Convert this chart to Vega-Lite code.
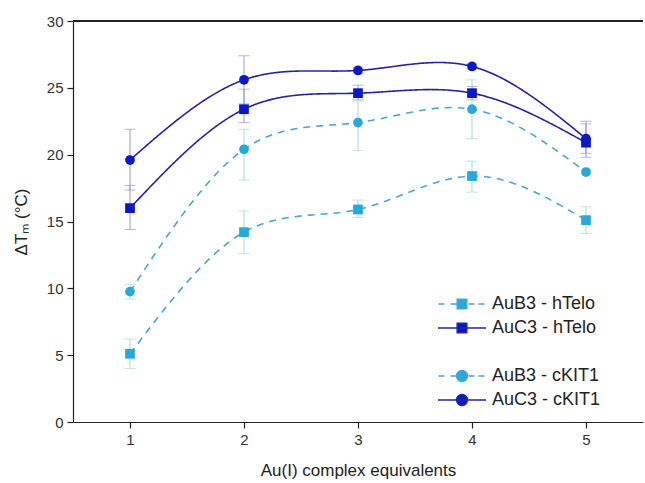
{
  "$schema": "https://vega.github.io/schema/vega-lite/v6.json",
  "width": 570,
  "height": 401,
  "autosize": "none",
  "padding": {"left": 73, "top": 21, "right": 2, "bottom": 61},
  "background": "white",
  "config": {
    "view": {"stroke": null},
    "font": "Liberation Sans",
    "axis": {
      "grid": false,
      "domainColor": "#222222",
      "domainWidth": 1.2,
      "tickColor": "#222222",
      "tickWidth": 1.2,
      "labelColor": "#333333",
      "labelFont": "Liberation Sans",
      "labelFontSize": 15,
      "labelPadding": 4,
      "titleFont": "Liberation Sans",
      "titleFontSize": 17,
      "titleFontWeight": "normal",
      "titleColor": "#222222"
    },
    "legend": {
      "labelFont": "Liberation Sans",
      "labelFontSize": 18,
      "labelColor": "#222222"
    }
  },
  "data": {
    "values": [
      {"series": "AuB3 - hTelo", "x": 1, "y": 5.1, "lo": 4.0, "hi": 6.2},
      {"series": "AuB3 - hTelo", "x": 2, "y": 14.2, "lo": 12.6, "hi": 15.8},
      {"series": "AuB3 - hTelo", "x": 3, "y": 15.9, "lo": 15.3, "hi": 16.6},
      {"series": "AuB3 - hTelo", "x": 4, "y": 18.4, "lo": 17.2, "hi": 19.5},
      {"series": "AuB3 - hTelo", "x": 5, "y": 15.1, "lo": 14.1, "hi": 16.1},
      {"series": "AuC3 - hTelo", "x": 1, "y": 16.0, "lo": 14.4, "hi": 17.7},
      {"series": "AuC3 - hTelo", "x": 2, "y": 23.4, "lo": 22.4, "hi": 24.9},
      {"series": "AuC3 - hTelo", "x": 3, "y": 24.6, "lo": 24.1, "hi": 25.2},
      {"series": "AuC3 - hTelo", "x": 4, "y": 24.6, "lo": 24.1, "hi": 25.1},
      {"series": "AuC3 - hTelo", "x": 5, "y": 20.9, "lo": 19.8, "hi": 22.3},
      {"series": "AuB3 - cKIT1", "x": 1, "y": 9.75, "lo": 9.2, "hi": 10.3},
      {"series": "AuB3 - cKIT1", "x": 2, "y": 20.4, "lo": 18.1, "hi": 21.9},
      {"series": "AuB3 - cKIT1", "x": 3, "y": 22.4, "lo": 20.3, "hi": 24.0},
      {"series": "AuB3 - cKIT1", "x": 4, "y": 23.4, "lo": 21.2, "hi": 25.6},
      {"series": "AuB3 - cKIT1", "x": 5, "y": 18.7, "lo": 18.5, "hi": 18.9},
      {"series": "AuC3 - cKIT1", "x": 1, "y": 19.6, "lo": 17.35, "hi": 21.9},
      {"series": "AuC3 - cKIT1", "x": 2, "y": 25.6, "lo": 23.8, "hi": 27.4},
      {"series": "AuC3 - cKIT1", "x": 3, "y": 26.3, "lo": 26.1, "hi": 26.5},
      {"series": "AuC3 - cKIT1", "x": 4, "y": 26.6, "lo": 26.4, "hi": 26.8},
      {"series": "AuC3 - cKIT1", "x": 5, "y": 21.2, "lo": 20.1, "hi": 22.5}
    ]
  },
  "encoding": {
    "x": {
      "field": "x",
      "type": "quantitative",
      "scale": {"domain": [0.5, 5.5], "nice": false, "zero": false},
      "axis": {
        "title": "Au(I) complex equivalents",
        "values": [1, 1.5, 2, 2.5, 3, 3.5, 4, 4.5, 5],
        "format": "d",
        "labelExpr": "datum.value % 1 === 0 ? datum.label : ''",
        "tickSize": {"condition": {"test": "datum.value % 1 !== 0", "value": 3}, "value": 6},
        "titlePadding": 15
      }
    }
  },
  "resolve": {
    "scale": {"shape": "independent", "fill": "independent", "stroke": "independent", "color": "independent", "strokeDash": "independent"},
    "legend": {"shape": "independent", "fill": "independent", "stroke": "independent", "color": "independent", "strokeDash": "independent"}
  },
  "layer": [
    {
      "mark": {"type": "rule", "color": "#222222", "strokeWidth": 1.2},
      "encoding": {
        "x": {"value": 0},
        "x2": {"value": 570},
        "y": {
          "datum": 30,
          "type": "quantitative",
          "scale": {"domain": [0, 30], "nice": false},
          "title": "ΔTₘ (°C)",
          "axis": {
            "title": "ΔTₘ (°C)",
            "values": [0, 2.5, 5, 7.5, 10, 12.5, 15, 17.5, 20, 22.5, 25, 27.5, 30],
            "labelExpr": "datum.value % 5 === 0 ? datum.label : ''",
            "tickSize": {"condition": {"test": "datum.value % 5 !== 0", "value": 3}, "value": 6},
            "titlePadding": 16
          }
        }
      }
    },
    {
      "layer": [
        {
          "mark": {"type": "rule", "strokeWidth": 1},
          "encoding": {
            "y": {"field": "lo", "type": "quantitative", "title": "ΔTₘ (°C)"},
            "y2": {"field": "hi"}
          }
        },
        {
          "mark": {"type": "tick", "orient": "horizontal", "size": 11, "thickness": 1},
          "encoding": {
            "y": {"field": "lo", "type": "quantitative", "title": "ΔTₘ (°C)"}
          }
        },
        {
          "mark": {"type": "tick", "orient": "horizontal", "size": 11, "thickness": 1},
          "encoding": {
            "y": {"field": "hi", "type": "quantitative", "title": "ΔTₘ (°C)"}
          }
        }
      ],
      "encoding": {
        "color": {
          "field": "series",
          "type": "nominal",
          "scale": {
            "domain": ["AuB3 - hTelo", "AuC3 - hTelo", "AuB3 - cKIT1", "AuC3 - cKIT1"],
            "range": ["#a6d8ee", "#9a9ad6", "#a6d8ee", "#9a9ad6"]
          },
          "legend": null
        }
      }
    },
    {
      "mark": {"type": "line", "interpolate": "natural", "strokeWidth": 1.6},
      "encoding": {
        "y": {"field": "y", "type": "quantitative", "title": "ΔTₘ (°C)"},
        "detail": {"field": "series"},
        "stroke": {
          "field": "series",
          "type": "nominal",
          "scale": {
            "domain": ["AuB3 - hTelo", "AuC3 - hTelo", "AuB3 - cKIT1", "AuC3 - cKIT1"],
            "range": ["#4aa6cc", "#2525a0", "#4aa6cc", "#2525a0"]
          },
          "legend": null
        },
        "strokeDash": {
          "field": "series",
          "type": "nominal",
          "scale": {
            "domain": ["AuB3 - hTelo", "AuC3 - hTelo", "AuB3 - cKIT1", "AuC3 - cKIT1"],
            "range": [[7, 6], [1, 0], [7, 6], [1, 0]]
          },
          "legend": null
        }
      }
    },
    {
      "mark": {"type": "point", "filled": true, "opacity": 1, "size": 95},
      "encoding": {
        "y": {"field": "y", "type": "quantitative", "title": "ΔTₘ (°C)"},
        "shape": {
          "field": "series",
          "type": "nominal",
          "scale": {
            "domain": ["AuB3 - hTelo", "AuC3 - hTelo", "AuB3 - cKIT1", "AuC3 - cKIT1"],
            "range": ["square", "square", "circle", "circle"]
          },
          "legend": null
        },
        "fill": {
          "field": "series",
          "type": "nominal",
          "scale": {
            "domain": ["AuB3 - hTelo", "AuC3 - hTelo", "AuB3 - cKIT1", "AuC3 - cKIT1"],
            "range": ["#2aa8d8", "#0c18c8", "#2aa8d8", "#0c18c8"]
          },
          "legend": null
        }
      }
    },
    {
      "mark": {"type": "point", "opacity": 0, "size": 256},
      "encoding": {
        "y": {"field": "y", "type": "quantitative", "title": "ΔTₘ (°C)"},
        "shape": {
          "field": "series",
          "type": "nominal",
          "scale": {
            "domain": ["AuB3 - hTelo", "AuC3 - hTelo", " ", "AuB3 - cKIT1", "AuC3 - cKIT1"],
            "range": [
              "M-4.94,0H-4.19M-3.44,0H-2.69M-1.19,0H-0.44M0.06,0H0.81M-2.6,-0.6H-1.4V0.6H-2.6Z",
              "M-5,0H1M-2.6,-0.6H-1.4V0.6H-2.6Z",
              "M0,0",
              "M-4.94,0H-4.19M-3.44,0H-2.69M-1.19,0H-0.44M0.06,0H0.81M-1.32,0A0.68,0.68 0 1,1 -2.68,0A0.68,0.68 0 1,1 -1.32,0Z",
              "M-5,0H1M-1.32,0A0.68,0.68 0 1,1 -2.68,0A0.68,0.68 0 1,1 -1.32,0Z"
            ]
          },
          "legend": {
            "title": null, "orient": "none", "legendX": 396, "legendY": 274, "padding": 0,
            "values": ["AuB3 - hTelo", "AuC3 - hTelo", " ", "AuB3 - cKIT1", "AuC3 - cKIT1"],
            "symbolSize": 256, "symbolStrokeWidth": 1.5, "symbolOpacity": 1, "rowPadding": 6, "labelOffset": 5
          }
        },
        "fill": {
          "field": "series",
          "type": "nominal",
          "scale": {
            "domain": ["AuB3 - hTelo", "AuC3 - hTelo", " ", "AuB3 - cKIT1", "AuC3 - cKIT1"],
            "range": ["#2aa8d8", "#0c18c8", "#ffffff", "#2aa8d8", "#0c18c8"]
          },
          "legend": {
            "title": null, "orient": "none", "legendX": 396, "legendY": 274, "padding": 0,
            "values": ["AuB3 - hTelo", "AuC3 - hTelo", " ", "AuB3 - cKIT1", "AuC3 - cKIT1"],
            "symbolSize": 256, "symbolStrokeWidth": 1.5, "symbolOpacity": 1, "rowPadding": 6, "labelOffset": 5
          }
        },
        "stroke": {
          "field": "series",
          "type": "nominal",
          "scale": {
            "domain": ["AuB3 - hTelo", "AuC3 - hTelo", " ", "AuB3 - cKIT1", "AuC3 - cKIT1"],
            "range": ["#4aa6cc", "#2525a0", "#ffffff", "#4aa6cc", "#2525a0"]
          },
          "legend": {
            "title": null, "orient": "none", "legendX": 396, "legendY": 274, "padding": 0,
            "values": ["AuB3 - hTelo", "AuC3 - hTelo", " ", "AuB3 - cKIT1", "AuC3 - cKIT1"],
            "symbolSize": 256, "symbolStrokeWidth": 1.5, "symbolOpacity": 1, "rowPadding": 6, "labelOffset": 5
          }
        }
      }
    }
  ]
}
